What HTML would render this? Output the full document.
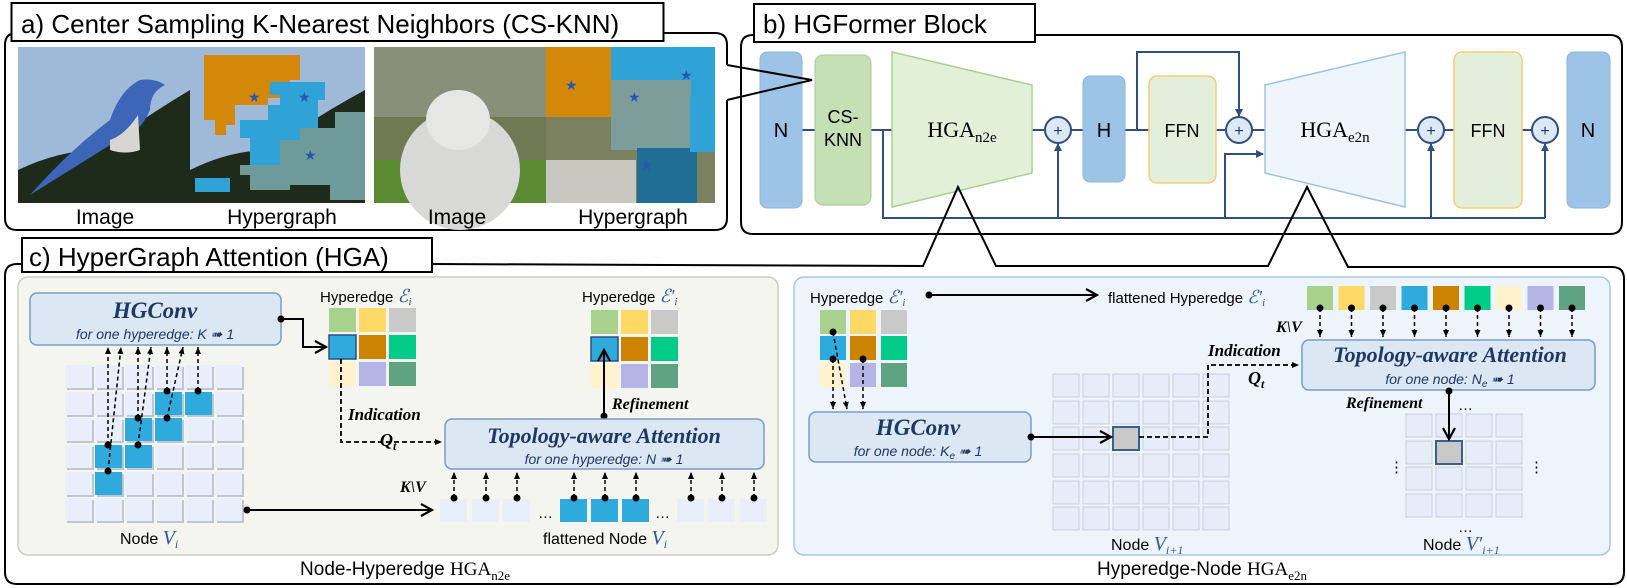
<!DOCTYPE html>
<html><head><meta charset="utf-8"><style>
html,body{margin:0;padding:0;background:#fff;}
svg{display:block;}
.s{font-family:"Liberation Sans",sans-serif;}
.sf{font-family:"Liberation Serif",serif;}
.t{font-family:"Liberation Serif",serif;font-style:italic;font-weight:bold;fill:#1f3864;}
.st{font-family:"Liberation Sans",sans-serif;font-style:italic;fill:#1f3864;}
.m{font-family:"Liberation Serif",serif;font-style:italic;fill:#2f5597;}
</style></head><body>
<svg width="1627" height="588" viewBox="0 0 1627 588" xmlns="http://www.w3.org/2000/svg">
<defs>
<marker id="ab" markerWidth="8" markerHeight="8" refX="7" refY="4" orient="auto" markerUnits="userSpaceOnUse"><path d="M0,0 L8,4 L0,8 z" fill="#2f4f7f"/></marker>
<marker id="ak" markerWidth="8" markerHeight="8" refX="7" refY="4" orient="auto" markerUnits="userSpaceOnUse"><path d="M0,1 L7,4 L0,7 z" fill="#000"/></marker>
<marker id="ao" markerWidth="14" markerHeight="14" refX="12" refY="7" orient="auto" markerUnits="userSpaceOnUse"><path d="M1,1 L12,7 L1,13" fill="none" stroke="#000" stroke-width="2.2"/></marker>
<marker id="dot" markerWidth="8" markerHeight="8" refX="4" refY="4" markerUnits="userSpaceOnUse"><circle cx="4" cy="4" r="3.5" fill="#000"/></marker>
</defs>

<!-- ===== Part a ===== -->
<path d="M727,65 L727,45 Q727,33 715,33 L17,33 Q5,33 5,45 L5,218 Q5,230 17,230 L715,230 Q727,230 727,218 L727,100" fill="none" stroke="#000" stroke-width="2"/>
<rect x="11.5" y="3" width="652" height="38" fill="#fff" stroke="#000" stroke-width="2"/>
<text x="21" y="33" class="s" font-size="26">a) Center Sampling K-Nearest Neighbors (CS-KNN)</text>
<!-- bird image -->
<rect x="18" y="47" width="172" height="156" fill="#9fb9d9"/>
<path d="M18,203 L18,170 Q60,150 100,150 Q140,120 190,90 L190,203 Z" fill="#1e2a1a"/>
<path d="M30,195 Q70,150 110,120 Q120,90 140,80 Q155,78 165,85 Q150,92 150,110 Q140,135 110,145 Q70,170 30,195 Z" fill="#3e66b8"/>
<path d="M110,140 Q125,135 138,115 L140,150 Q125,155 110,150 Z" fill="#d8d6d0"/>
<!-- hypergraph 1 -->
<rect x="190" y="47" width="175" height="156" fill="#9fb9d9"/>
<path d="M190,203 L190,170 Q230,150 270,150 Q310,120 365,90 L365,203 Z" fill="#1e2a1a"/>
<path d="M204,55 L300,55 L300,80 L290,80 L290,98 L268,98 L268,105 L235,105 L235,125 L226,125 L226,135 L215,135 L215,120 L204,120 Z" fill="#d4880a"/>
<path d="M270,82 L325,82 L325,100 L318,100 L318,135 L300,135 L300,150 L280,150 L280,165 L250,165 L250,138 L240,138 L240,120 L268,120 L268,105 L280,105 L280,95 L270,95 Z" fill="#2fa3d8"/>
<path d="M240,165 L280,165 L280,140 L300,140 L300,128 L335,128 L335,112 L365,112 L365,200 L330,200 L330,185 L290,185 L290,190 L250,190 L250,175 L240,175 Z" fill="#6e9a9a"/>
<rect x="195" y="178" width="35" height="14" fill="#2fa3d8"/>
<text x="248" y="102" font-size="14" fill="#2a56b0">★</text><text x="298" y="102" font-size="14" fill="#2a56b0">★</text><text x="304" y="160" font-size="14" fill="#2a56b0">★</text>
<!-- cat image -->
<rect x="374" y="47" width="172" height="156" fill="#6f7a52"/>
<rect x="374" y="47" width="172" height="70" fill="#8a8f7a"/>
<rect x="374" y="160" width="172" height="43" fill="#5a8a32"/>
<ellipse cx="460" cy="170" rx="60" ry="60" fill="#d8d8d6"/>
<ellipse cx="458" cy="120" rx="32" ry="30" fill="#e6e6e4"/>
<!-- hypergraph 2 -->
<rect x="546" y="47" width="169" height="156" fill="#7a8060"/>
<rect x="546" y="47" width="65" height="70" fill="#d4880a"/>
<rect x="611" y="47" width="104" height="50" fill="#2fa3d8"/>
<rect x="611" y="80" width="80" height="70" fill="#7d9d9b"/>
<rect x="637" y="148" width="60" height="55" fill="#1f6f94"/>
<rect x="690" y="97" width="25" height="55" fill="#2fa3d8"/>
<rect x="546" y="160" width="90" height="43" fill="#c8c8c0"/>
<text x="565" y="90" font-size="14" fill="#2a56b0">★</text><text x="628" y="102" font-size="14" fill="#2a56b0">★</text><text x="680" y="80" font-size="14" fill="#2a56b0">★</text><text x="640" y="170" font-size="14" fill="#2a56b0">★</text>
<g class="s" font-size="21" text-anchor="middle"><text x="105" y="224">Image</text><text x="282" y="224">Hypergraph</text><text x="457" y="224">Image</text><text x="633" y="224">Hypergraph</text></g>

<!-- ===== Part b ===== -->
<path d="M741,47 Q741,35 753,35 L1610,35 Q1622,35 1622,47 L1622,222 Q1622,234 1610,234 L753,234 Q741,234 741,222 Z" fill="none" stroke="#000" stroke-width="2"/>
<rect x="754" y="4" width="281" height="38" fill="#fff" stroke="#000" stroke-width="2"/>
<text x="763" y="33" class="s" font-size="26">b) HGFormer Block</text>
<g stroke="#2f4f7f" stroke-width="2" fill="none">
<line x1="802" y1="130" x2="1550" y2="130"/>
<polyline points="883,130 883,218 1545,218"/>
<line x1="1058" y1="218" x2="1058" y2="144" marker-end="url(#ab)"/>
<line x1="1431" y1="218" x2="1431" y2="144" marker-end="url(#ab)"/>
<line x1="1545" y1="218" x2="1545" y2="144" marker-end="url(#ab)"/>
<polyline points="1225,218 1225,154 1263,154" marker-end="url(#ab)"/>
<polyline points="1137,130 1137,52 1239,52 1239,116" marker-end="url(#ab)"/>
</g>
<rect x="760" y="52" width="42" height="156" rx="7" fill="#9dc3e6" stroke="#8fb4d9"/>
<text x="781" y="137" class="s" font-size="20" text-anchor="middle">N</text>
<rect x="815" y="55" width="56" height="150" rx="8" fill="#c5e0b4" stroke="#a9c994"/>
<text x="843" y="123" class="s" font-size="18" text-anchor="middle">CS-</text>
<text x="843" y="146" class="s" font-size="18" text-anchor="middle">KNN</text>
<polygon points="892,52 1032,85 1032,173 892,207" fill="#e2f0d9" stroke="#a9d18e" stroke-width="1.5"/>
<text x="962" y="137" class="sf" font-size="22" text-anchor="middle">HGA<tspan font-size="15" dy="5">n2e</tspan></text>
<rect x="1083" y="76" width="42" height="106" rx="7" fill="#9dc3e6" stroke="#8fb4d9"/>
<text x="1104" y="137" class="s" font-size="20" text-anchor="middle">H</text>
<rect x="1149" y="76" width="67" height="107" rx="8" fill="#e3eedb" stroke="#f2cf74" stroke-width="1.5"/>
<text x="1182" y="137" class="s" font-size="18" text-anchor="middle">FFN</text>
<polygon points="1265,85 1405,52 1405,207 1265,173" fill="#eef5fc" stroke="#9dc3e6" stroke-width="1.5"/>
<text x="1335" y="137" class="sf" font-size="22" text-anchor="middle">HGA<tspan font-size="15" dy="5">e2n</tspan></text>
<rect x="1454" y="52" width="68" height="156" rx="8" fill="#e3eedb" stroke="#f2cf74" stroke-width="1.5"/>
<text x="1488" y="137" class="s" font-size="18" text-anchor="middle">FFN</text>
<rect x="1567" y="52" width="43" height="156" rx="7" fill="#9dc3e6" stroke="#8fb4d9"/>
<text x="1588" y="137" class="s" font-size="20" text-anchor="middle">N</text>
<g fill="#dde8f5" stroke="#2f4f7f" stroke-width="2">
<circle cx="1058" cy="130" r="13"/><circle cx="1239" cy="130" r="13"/><circle cx="1431" cy="130" r="13"/><circle cx="1545" cy="130" r="13"/></g>
<g class="s" font-size="16" text-anchor="middle" fill="#1f3864"><text x="1058" y="136">+</text><text x="1239" y="136">+</text><text x="1431" y="136">+</text><text x="1545" y="136">+</text></g>
<!-- callout a->b (drawn over N) -->
<polyline points="727,65 812,80 727,100" fill="none" stroke="#000" stroke-width="2"/>

<!-- ===== Part c ===== -->
<path d="M432,264 L923,266 L958,187 L996,266 L1268,266 L1307,187 L1348,267 L1612,267 Q1624,267 1624,279 L1624,572 Q1624,584 1612,584 L17,584 Q5,584 5,572 L5,276 Q5,264 17,264 L22,264" fill="none" stroke="#000" stroke-width="2"/>
<rect x="22" y="238" width="410" height="34" fill="#fff" stroke="#000" stroke-width="2"/>
<text x="29" y="266" class="s" font-size="26">c) HyperGraph Attention (HGA)</text>

<!-- left panel -->
<rect x="18" y="277" width="760" height="278" rx="10" fill="#f3f5ee" stroke="#c9cfc1" stroke-width="1.5"/>
<rect x="30" y="293" width="251" height="52" rx="7" fill="#dbe7f3" stroke="#7a9cc4" stroke-width="1.5"/>
<text x="155" y="318" class="t" font-size="23" text-anchor="middle">HGConv</text>
<text x="155" y="339" class="st" font-size="14" text-anchor="middle">for one hyperedge:  K ➠ 1</text>
<g fill="#bfc6d2">
<rect x="67" y="367" width="27" height="23"/><rect x="97" y="367" width="27" height="23"/><rect x="127" y="367" width="27" height="23"/><rect x="157" y="367" width="27" height="23"/><rect x="187" y="367" width="27" height="23"/><rect x="217" y="367" width="27" height="23"/>
<rect x="67" y="394" width="27" height="23"/><rect x="97" y="394" width="27" height="23"/><rect x="127" y="394" width="27" height="23"/><rect x="157" y="394" width="27" height="23"/><rect x="187" y="394" width="27" height="23"/><rect x="217" y="394" width="27" height="23"/>
<rect x="67" y="420" width="27" height="23"/><rect x="97" y="420" width="27" height="23"/><rect x="127" y="420" width="27" height="23"/><rect x="157" y="420" width="27" height="23"/><rect x="187" y="420" width="27" height="23"/><rect x="217" y="420" width="27" height="23"/>
<rect x="67" y="447" width="27" height="23"/><rect x="97" y="447" width="27" height="23"/><rect x="127" y="447" width="27" height="23"/><rect x="157" y="447" width="27" height="23"/><rect x="187" y="447" width="27" height="23"/><rect x="217" y="447" width="27" height="23"/>
<rect x="67" y="474" width="27" height="23"/><rect x="97" y="474" width="27" height="23"/><rect x="127" y="474" width="27" height="23"/><rect x="157" y="474" width="27" height="23"/><rect x="187" y="474" width="27" height="23"/><rect x="217" y="474" width="27" height="23"/>
<rect x="67" y="500" width="27" height="23"/><rect x="97" y="500" width="27" height="23"/><rect x="127" y="500" width="27" height="23"/><rect x="157" y="500" width="27" height="23"/><rect x="187" y="500" width="27" height="23"/><rect x="217" y="500" width="27" height="23"/>
</g>
<g fill="#e8eefa">
<rect x="65" y="365" width="27" height="23"/><rect x="95" y="365" width="27" height="23"/><rect x="125" y="365" width="27" height="23"/><rect x="155" y="365" width="27" height="23"/><rect x="185" y="365" width="27" height="23"/><rect x="215" y="365" width="27" height="23"/>
<rect x="65" y="392" width="27" height="23"/><rect x="95" y="392" width="27" height="23"/><rect x="125" y="392" width="27" height="23"/><rect x="155" y="392" width="27" height="23" fill="#2eaadc"/><rect x="185" y="392" width="27" height="23" fill="#2eaadc"/><rect x="215" y="392" width="27" height="23"/>
<rect x="65" y="418" width="27" height="23"/><rect x="95" y="418" width="27" height="23"/><rect x="125" y="418" width="27" height="23" fill="#2eaadc"/><rect x="155" y="418" width="27" height="23" fill="#2eaadc"/><rect x="185" y="418" width="27" height="23"/><rect x="215" y="418" width="27" height="23"/>
<rect x="65" y="445" width="27" height="23"/><rect x="95" y="445" width="27" height="23" fill="#2eaadc"/><rect x="125" y="445" width="27" height="23" fill="#2eaadc"/><rect x="155" y="445" width="27" height="23"/><rect x="185" y="445" width="27" height="23"/><rect x="215" y="445" width="27" height="23"/>
<rect x="65" y="472" width="27" height="23"/><rect x="95" y="472" width="27" height="23" fill="#2eaadc"/><rect x="125" y="472" width="27" height="23"/><rect x="155" y="472" width="27" height="23"/><rect x="185" y="472" width="27" height="23"/><rect x="215" y="472" width="27" height="23"/>
<rect x="65" y="498" width="27" height="23"/><rect x="95" y="498" width="27" height="23"/><rect x="125" y="498" width="27" height="23"/><rect x="155" y="498" width="27" height="23"/><rect x="185" y="498" width="27" height="23"/><rect x="215" y="498" width="27" height="23"/>
</g>
<g stroke="#000" stroke-width="1.5" stroke-dasharray="4,3" marker-start="url(#dot)" marker-end="url(#ak)">
<line x1="108" y1="471" x2="121" y2="347"/><line x1="108" y1="445" x2="108" y2="347"/>
<line x1="138" y1="445" x2="151" y2="347"/><line x1="138" y1="418" x2="138" y2="347"/>
<line x1="167" y1="418" x2="183" y2="347"/><line x1="167" y1="391" x2="167" y2="347"/>
<line x1="198" y1="391" x2="198" y2="347"/>
</g>
<text x="120" y="544" class="s" font-size="16">Node <tspan class="m" font-size="20">V</tspan><tspan class="m" font-size="12" dy="4">i</tspan></text>
<line x1="247" y1="510" x2="432" y2="510" stroke="#000" stroke-width="2" marker-start="url(#dot)" marker-end="url(#ao)"/>

<!-- hyperedge Ei -->
<text x="320" y="302" class="s" font-size="15">Hyperedge <tspan class="m" font-size="18">ℰ</tspan><tspan class="m" font-size="11" dy="3">i</tspan></text>
<g>
<rect x="329" y="308" width="27" height="24" fill="#a9d18e"/><rect x="359" y="308" width="27" height="24" fill="#ffd966"/><rect x="389" y="308" width="27" height="24" fill="#c9c9c9"/>
<rect x="329" y="335" width="27" height="24" fill="#2eaadc" stroke="#2f4f7f" stroke-width="1.5"/><rect x="359" y="335" width="27" height="24" fill="#cc8400"/><rect x="389" y="335" width="27" height="24" fill="#00cc88"/>
<rect x="329" y="362" width="27" height="24" fill="#fff2cc"/><rect x="359" y="362" width="27" height="24" fill="#b4b4e6"/><rect x="389" y="362" width="27" height="24" fill="#5fa383"/>
</g>
<polyline points="281,319 303,319 303,347 326,347" fill="none" stroke="#000" stroke-width="2" marker-start="url(#dot)" marker-end="url(#ao)"/>
<polyline points="341,359 341,442 442,442" fill="none" stroke="#000" stroke-width="1.8" stroke-dasharray="5,3" marker-end="url(#ak)"/>
<text x="348" y="420" class="t" font-size="17" style="fill:#000">Indication</text>
<text x="380" y="446" class="t" font-size="18" style="fill:#000">Q<tspan font-size="12" dy="4">t</tspan></text>

<!-- Hyperedge Ei' -->
<text x="582" y="302" class="s" font-size="15">Hyperedge <tspan class="m" font-size="18">ℰ′</tspan><tspan class="m" font-size="11" dy="3">i</tspan></text>
<g>
<rect x="591" y="310" width="27" height="24" fill="#a9d18e"/><rect x="621" y="310" width="27" height="24" fill="#ffd966"/><rect x="651" y="310" width="27" height="24" fill="#c9c9c9"/>
<rect x="591" y="337" width="27" height="24" fill="#2eaadc" stroke="#2f4f7f" stroke-width="1.5"/><rect x="621" y="337" width="27" height="24" fill="#cc8400"/><rect x="651" y="337" width="27" height="24" fill="#00cc88"/>
<rect x="591" y="364" width="27" height="24" fill="#fff2cc"/><rect x="621" y="364" width="27" height="24" fill="#b4b4e6"/><rect x="651" y="364" width="27" height="24" fill="#5fa383"/>
</g>
<line x1="604" y1="416" x2="604" y2="350" stroke="#000" stroke-width="2" marker-start="url(#dot)" marker-end="url(#ao)"/>
<text x="612" y="409" class="t" font-size="16" style="fill:#000">Refinement</text>

<rect x="445" y="419" width="319" height="50" rx="7" fill="#dbe7f3" stroke="#7a9cc4" stroke-width="1.5"/>
<text x="604" y="443" class="t" font-size="22" text-anchor="middle">Topology-aware Attention</text>
<text x="604" y="464" class="st" font-size="14" text-anchor="middle">for one hyperedge:  N ➠ 1</text>
<text x="400" y="492" class="t" font-size="16" style="fill:#000">K\V</text>
<g fill="#e8eefa">
<rect x="440" y="499" width="27" height="23"/><rect x="472" y="499" width="27" height="23"/><rect x="503" y="499" width="27" height="23"/>
<rect x="560" y="499" width="27" height="23" fill="#2eaadc"/><rect x="591" y="499" width="27" height="23" fill="#2eaadc"/><rect x="622" y="499" width="27" height="23" fill="#2eaadc"/>
<rect x="677" y="499" width="27" height="23"/><rect x="708" y="499" width="27" height="23"/><rect x="740" y="499" width="27" height="23"/>
</g>
<g class="s" font-size="15"><text x="538" y="518">…</text><text x="655" y="518">…</text></g>
<g stroke="#000" stroke-width="1.5" stroke-dasharray="4,3" marker-start="url(#dot)" marker-end="url(#ak)">
<line x1="454" y1="498" x2="454" y2="472"/><line x1="486" y1="498" x2="486" y2="472"/><line x1="517" y1="498" x2="517" y2="472"/>
<line x1="574" y1="498" x2="574" y2="472"/><line x1="605" y1="498" x2="605" y2="472"/><line x1="636" y1="498" x2="636" y2="472"/>
<line x1="691" y1="498" x2="691" y2="472"/><line x1="722" y1="498" x2="722" y2="472"/><line x1="754" y1="498" x2="754" y2="472"/>
</g>
<text x="543" y="544" class="s" font-size="16">flattened Node <tspan class="m" font-size="20">V</tspan><tspan class="m" font-size="12" dy="4">i</tspan></text>
<text x="405" y="575" class="s" font-size="19" text-anchor="middle">Node-Hyperedge <tspan class="sf">HGA</tspan><tspan class="sf" font-size="13" dy="5">n2e</tspan></text>

<!-- right panel -->
<rect x="794" y="277" width="816" height="278" rx="10" fill="#eef4fb" stroke="#a9c6e8" stroke-width="1.5"/>
<text x="810" y="303" class="s" font-size="15">Hyperedge <tspan class="m" font-size="18">ℰ′</tspan><tspan class="m" font-size="11" dy="3">i</tspan></text>
<line x1="929" y1="295" x2="1097" y2="295" stroke="#000" stroke-width="2" marker-start="url(#dot)" marker-end="url(#ao)"/>
<text x="1108" y="303" class="s" font-size="15">flattened Hyperedge <tspan class="m" font-size="18">ℰ′</tspan><tspan class="m" font-size="11" dy="3">i</tspan></text>
<g>
<rect x="1307" y="286" width="26" height="24" fill="#a9d18e"/><rect x="1338.5" y="286" width="26" height="24" fill="#ffd966"/><rect x="1370" y="286" width="26" height="24" fill="#c9c9c9"/>
<rect x="1401.5" y="286" width="26" height="24" fill="#2eaadc"/><rect x="1433" y="286" width="26" height="24" fill="#cc8400"/><rect x="1464.5" y="286" width="26" height="24" fill="#00cc88"/>
<rect x="1496" y="286" width="26" height="24" fill="#fff2cc"/><rect x="1527.5" y="286" width="26" height="24" fill="#b4b4e6"/><rect x="1559" y="286" width="26" height="24" fill="#5fa383"/>
</g>
<g stroke="#000" stroke-width="1.5" stroke-dasharray="4,3" marker-start="url(#dot)" marker-end="url(#ak)">
<line x1="1320" y1="308" x2="1320" y2="337"/><line x1="1351.5" y1="308" x2="1351.5" y2="337"/><line x1="1383" y1="308" x2="1383" y2="337"/>
<line x1="1414.5" y1="308" x2="1414.5" y2="337"/><line x1="1446" y1="308" x2="1446" y2="337"/><line x1="1477.5" y1="308" x2="1477.5" y2="337"/>
<line x1="1509" y1="308" x2="1509" y2="337"/><line x1="1540.5" y1="308" x2="1540.5" y2="337"/><line x1="1572" y1="308" x2="1572" y2="337"/>
</g>
<text x="1276" y="332" class="t" font-size="16" style="fill:#000">K\V</text>
<rect x="1302" y="340" width="293" height="50" rx="7" fill="#dbe7f3" stroke="#7a9cc4" stroke-width="1.5"/>
<text x="1450" y="362" class="t" font-size="22" text-anchor="middle">Topology-aware Attention</text>
<text x="1450" y="384" class="st" font-size="14" text-anchor="middle">for one node:  N<tspan font-size="10" dy="3">e</tspan><tspan dy="-3"> ➠ 1</tspan></text>

<!-- small Ei' grid -->
<g>
<rect x="820" y="310" width="26" height="24" fill="#a9d18e"/><rect x="850" y="310" width="26" height="24" fill="#ffd966"/><rect x="881" y="310" width="26" height="24" fill="#c9c9c9"/>
<rect x="820" y="336" width="26" height="24" fill="#2eaadc"/><rect x="850" y="336" width="26" height="24" fill="#cc8400"/><rect x="881" y="336" width="26" height="24" fill="#00cc88"/>
<rect x="820" y="363" width="26" height="24" fill="#fff2cc"/><rect x="850" y="363" width="26" height="24" fill="#b4b4e6"/><rect x="881" y="363" width="26" height="24" fill="#5fa383"/>
</g>
<g stroke="#000" stroke-width="1.5" stroke-dasharray="4,3" marker-start="url(#dot)" marker-end="url(#ak)">
<line x1="833" y1="332" x2="847" y2="409"/><line x1="833" y1="359" x2="833" y2="409"/><line x1="863" y1="359" x2="863" y2="409"/>
</g>
<rect x="809" y="412" width="222" height="50" rx="7" fill="#dbe7f3" stroke="#7a9cc4" stroke-width="1.5"/>
<text x="918" y="435" class="t" font-size="23" text-anchor="middle">HGConv</text>
<text x="918" y="456" class="st" font-size="14" text-anchor="middle">for one node:  K<tspan font-size="10" dy="3">e</tspan><tspan dy="-3"> ➠ 1</tspan></text>

<!-- node grid 2 -->
<g fill="#e6edf9" stroke="#c8d0dc" stroke-width="1">
<rect x="1053" y="374" width="26" height="23"/><rect x="1083" y="374" width="26" height="23"/><rect x="1113" y="374" width="26" height="23"/><rect x="1143" y="374" width="26" height="23"/><rect x="1173" y="374" width="26" height="23"/><rect x="1203" y="374" width="26" height="23"/>
<rect x="1053" y="401" width="26" height="23"/><rect x="1083" y="401" width="26" height="23"/><rect x="1113" y="401" width="26" height="23"/><rect x="1143" y="401" width="26" height="23"/><rect x="1173" y="401" width="26" height="23"/><rect x="1203" y="401" width="26" height="23"/>
<rect x="1053" y="427" width="26" height="23"/><rect x="1083" y="427" width="26" height="23"/><rect x="1113" y="427" width="26" height="23" fill="#c8c8c8" stroke="#3a5f8a" stroke-width="2"/><rect x="1143" y="427" width="26" height="23"/><rect x="1173" y="427" width="26" height="23"/><rect x="1203" y="427" width="26" height="23"/>
<rect x="1053" y="454" width="26" height="23"/><rect x="1083" y="454" width="26" height="23"/><rect x="1113" y="454" width="26" height="23"/><rect x="1143" y="454" width="26" height="23"/><rect x="1173" y="454" width="26" height="23"/><rect x="1203" y="454" width="26" height="23"/>
<rect x="1053" y="481" width="26" height="23"/><rect x="1083" y="481" width="26" height="23"/><rect x="1113" y="481" width="26" height="23"/><rect x="1143" y="481" width="26" height="23"/><rect x="1173" y="481" width="26" height="23"/><rect x="1203" y="481" width="26" height="23"/>
<rect x="1053" y="507" width="26" height="23"/><rect x="1083" y="507" width="26" height="23"/><rect x="1113" y="507" width="26" height="23"/><rect x="1143" y="507" width="26" height="23"/><rect x="1173" y="507" width="26" height="23"/><rect x="1203" y="507" width="26" height="23"/>
</g>
<line x1="1031" y1="437" x2="1111" y2="437" stroke="#000" stroke-width="2" marker-start="url(#dot)" marker-end="url(#ao)"/>
<polyline points="1139,437 1208,437 1208,365 1299,365" fill="none" stroke="#000" stroke-width="1.8" stroke-dasharray="5,3" marker-end="url(#ak)"/>
<text x="1208" y="356" class="t" font-size="17" style="fill:#000">Indication</text>
<text x="1248" y="384" class="t" font-size="18" style="fill:#000">Q<tspan font-size="12" dy="4">t</tspan></text>
<text x="1111" y="550" class="s" font-size="16">Node <tspan class="m" font-size="20">V</tspan><tspan class="m" font-size="12" dy="4">i+1</tspan></text>

<!-- node grid 3 -->
<g fill="#e6edf9" stroke="#c8d0dc" stroke-width="1">
<rect x="1406" y="414" width="26" height="23"/><rect x="1436" y="414" width="26" height="23"/><rect x="1466" y="414" width="26" height="23"/><rect x="1496" y="414" width="26" height="23"/>
<rect x="1406" y="441" width="26" height="23"/><rect x="1436" y="441" width="26" height="23" fill="#c8c8c8" stroke="#3a5f8a" stroke-width="2"/><rect x="1466" y="441" width="26" height="23"/><rect x="1496" y="441" width="26" height="23"/>
<rect x="1406" y="467" width="26" height="23"/><rect x="1436" y="467" width="26" height="23"/><rect x="1466" y="467" width="26" height="23"/><rect x="1496" y="467" width="26" height="23"/>
<rect x="1406" y="494" width="26" height="23"/><rect x="1436" y="494" width="26" height="23"/><rect x="1466" y="494" width="26" height="23"/><rect x="1496" y="494" width="26" height="23"/>
</g>
<line x1="1449" y1="391" x2="1449" y2="439" stroke="#000" stroke-width="2" marker-start="url(#dot)" marker-end="url(#ao)"/>
<text x="1346" y="408" class="t" font-size="16" style="fill:#000">Refinement</text>
<g class="s" font-size="15"><text x="1458" y="410">…</text><text x="1458" y="532">…</text><text x="1389" y="472">⋮</text><text x="1529" y="472">⋮</text></g>
<text x="1423" y="550" class="s" font-size="16">Node <tspan class="m" font-size="20">V′</tspan><tspan class="m" font-size="12" dy="4">i+1</tspan></text>
<text x="1202" y="575" class="s" font-size="19" text-anchor="middle">Hyperedge-Node <tspan class="sf">HGA</tspan><tspan class="sf" font-size="13" dy="5">e2n</tspan></text>
</svg>
</body></html>
